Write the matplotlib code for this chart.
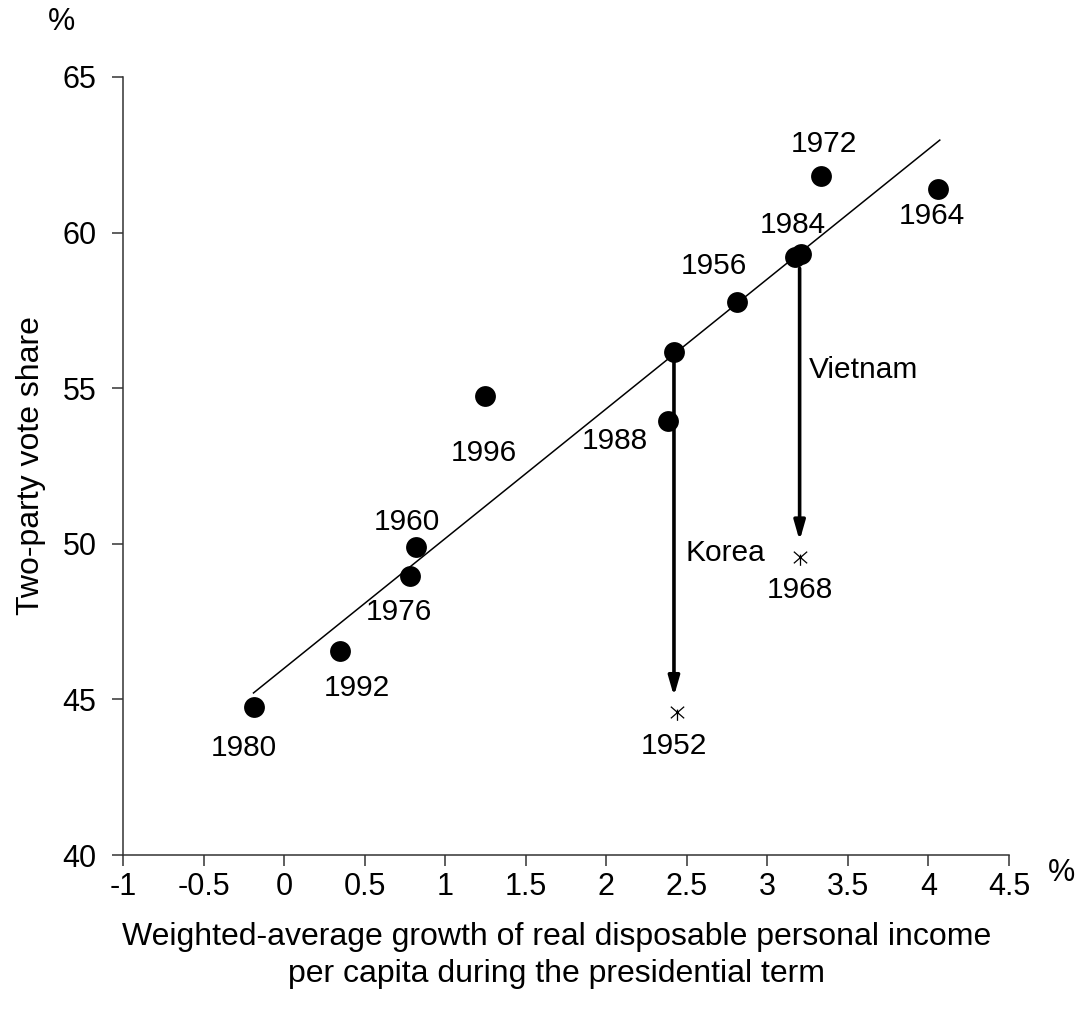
import matplotlib
matplotlib.use("Agg")
import matplotlib.pyplot as plt
from matplotlib.path import Path

plt.rcParams['font.family'] = ['Liberation Sans', 'DejaVu Sans']

# Actual election outcomes (dots)
years = ["1980", "1992", "1976", "1960", "1996", "1988", "1952p", "1956", "1984", "1968p", "1972", "1964"]
growth = [-0.19, 0.35, 0.78, 0.82, 1.25, 2.38, 2.42, 2.81, 3.17, 3.21, 3.33, 4.06]
vote = [44.76, 46.56, 48.97, 49.90, 54.75, 53.95, 56.16, 57.77, 59.22, 59.32, 61.82, 61.40]

# War-year actual results (star markers)
war_years = ["1952", "1968"]
war_growth = [2.44, 3.20]
war_vote = [44.6, 49.58]

# Fitted line
fit_x = [-0.19, 4.07]
fit_intercept = 46.0
fit_slope = 4.17

# Text labels
label_text = ["1980", "1992", "1976", "1960", "1996", "1988", "1952", "Korea",
              "1956", "1984", "Vietnam", "1968", "1972", "1964"]
label_x = [-0.25, 0.45, 0.71, 0.76, 1.24, 2.05, 2.42, 2.74, 2.67, 3.16, 3.60, 3.20, 3.35, 4.02]
label_y = [43.44, 45.37, 47.81, 50.70, 52.92, 53.30, 43.50, 49.70, 58.93, 60.24, 55.60, 48.50, 62.85, 60.53]

# Arrows
arrow_x = [2.42, 3.20]
arrow_y0 = [56.0, 58.85]
arrow_y1 = [45.10, 50.10]

xticks = [-1, -0.5, 0, 0.5, 1, 1.5, 2, 2.5, 3, 3.5, 4, 4.5]
xtick_labels = ["-1", "-0.5", "0", "0.5", "1", "1.5", "2", "2.5", "3", "3.5", "4", "4.5"]
yticks = [40, 45, 50, 55, 60, 65]

star = Path([(0, -1), (0, 0.35), (-0.8, -0.7), (0.8, 0.7), (-0.8, 0.7), (0.8, -0.7)],
            [Path.MOVETO, Path.LINETO, Path.MOVETO, Path.LINETO, Path.MOVETO, Path.LINETO])

fig = plt.figure(figsize=(10.8, 10.32), dpi=100)
ax = fig.add_axes([0.1139, 0.1715, 0.8204, 0.7539])

ax.set_xlim(-1, 4.5)
ax.set_ylim(40, 65)

fit_y = [fit_intercept + fit_slope * v for v in fit_x]
ax.plot(fit_x, fit_y, color='black', lw=1.1, zorder=2)

for x, y0, y1 in zip(arrow_x, arrow_y0, arrow_y1):
    ax.annotate("", xy=(x, y1), xytext=(x, y0),
                arrowprops=dict(arrowstyle="-|>,head_length=1.15,head_width=0.33",
                                color='black', lw=2.6, shrinkA=0, shrinkB=0),
                zorder=3)

ax.plot(growth, vote, 'o', color='black', ms=15, zorder=4, markeredgewidth=0)
ax.plot(war_growth, war_vote, marker=star, ls='none', color='black', ms=12, mew=0.9,
        fillstyle='none', zorder=4)

for t, x, y in zip(label_text, label_x, label_y):
    ax.text(x, y, t, ha='center', va='center', fontsize=21.5, zorder=5)

for s in ['top', 'right']:
    ax.spines[s].set_visible(False)
for s in ['left', 'bottom']:
    ax.spines[s].set_linewidth(1.1)
    ax.spines[s].set_color('#333333')

ax.set_xticks(xticks)
ax.set_xticklabels(xtick_labels)
ax.set_yticks(yticks)
ax.tick_params(axis='both', direction='out', length=8, width=1.1, color='#333333', labelsize=22)
ax.tick_params(axis='y', pad=11)
ax.tick_params(axis='x', pad=4)

ax.set_ylabel("Two-party vote share", fontsize=23, labelpad=12)
ax.set_xlabel("Weighted-average growth of real disposable personal income\nper capita during the presidential term",
              fontsize=23, linespacing=1.32)
ax.xaxis.set_label_coords(0.489, -0.086, transform=ax.transAxes)

fig.text(0.0574, 0.9787, "%", fontsize=22, ha='center', va='center')
fig.text(0.983, 0.154, "%", fontsize=22, ha='center', va='center')

fig.savefig("out.png", dpi=100)
